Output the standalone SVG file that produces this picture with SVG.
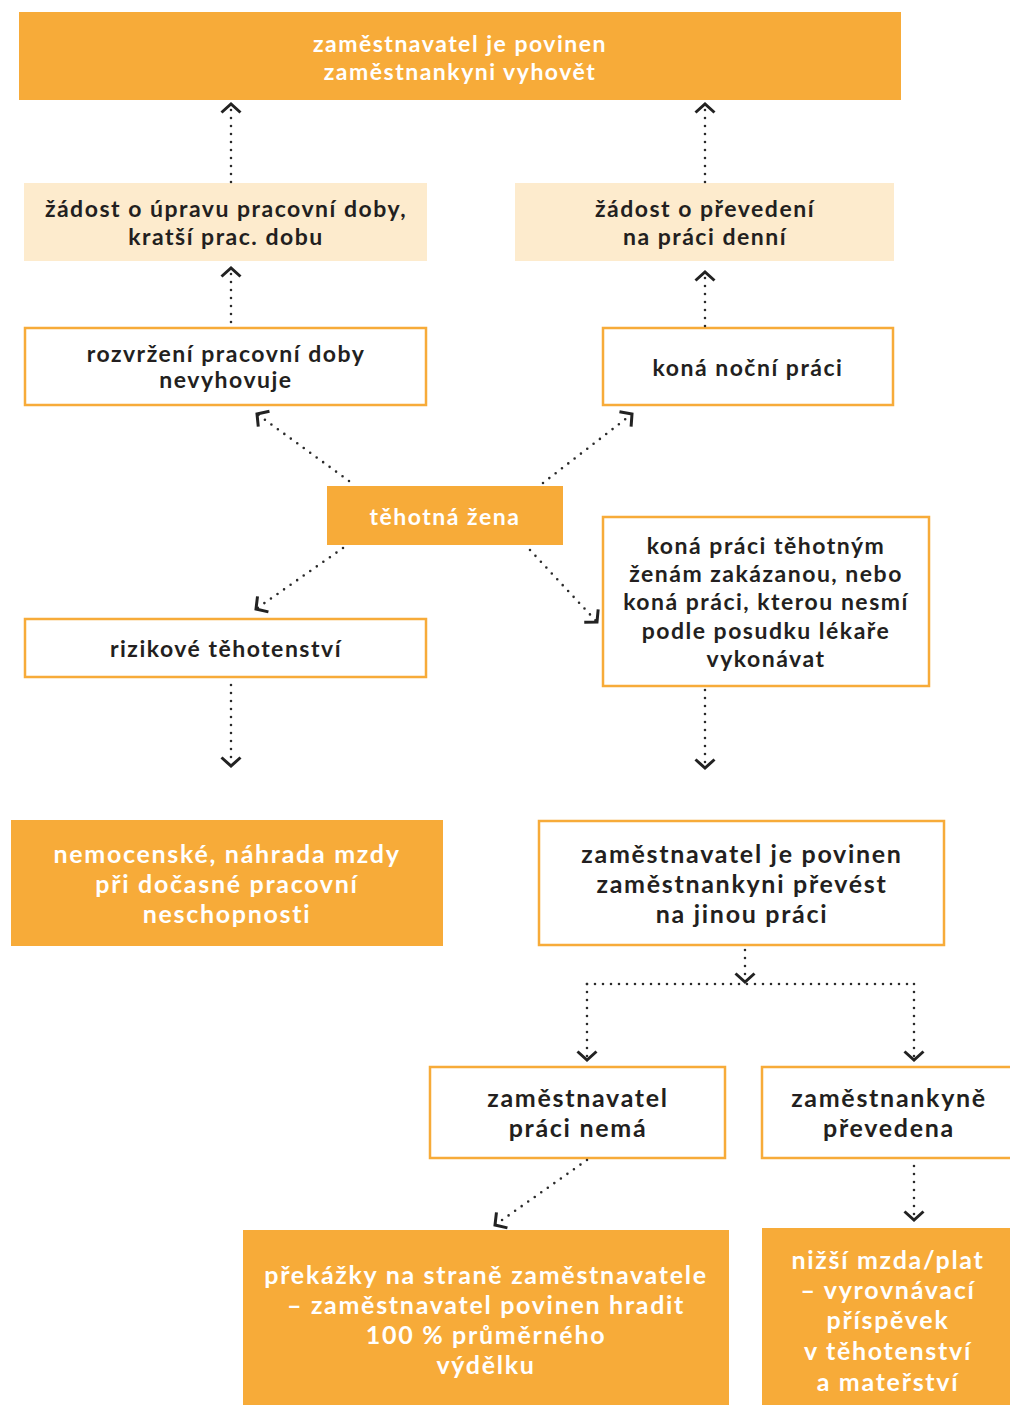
<svg xmlns="http://www.w3.org/2000/svg" width="1010" height="1405" viewBox="0 0 1010 1405">
<style>
.t{font-family:Lato,"Noto Sans","DejaVu Sans",sans-serif;font-weight:bold;font-size:23px;letter-spacing:1.5px;text-anchor:middle;fill:#231f20}
.L{font-size:25px;letter-spacing:1.7px}
.w{fill:#ffffff}
.or{fill:#f7ab39}
.lt{fill:#fdebcd}
.bx{fill:#ffffff;stroke:#f7ab39;stroke-width:2.5}
.c{fill:none;stroke:#2a2a2a;stroke-width:2.6;stroke-linecap:round;stroke-dasharray:0 8}
</style>
<defs>
<marker id="ah" viewBox="-12 -12 24 24" markerWidth="24" markerHeight="24" refX="0" refY="0" orient="auto" markerUnits="userSpaceOnUse">
<path d="M-8.5,-9.5 L0,0 L-8.5,9.5" fill="none" stroke="#222" stroke-width="3"/>
</marker>
</defs>
<rect width="1010" height="1405" fill="#ffffff"/>
<g id="n-top"><rect class="or" x="19" y="12" width="882" height="88"/>
<text class="t w" x="460" y="52">zaměstnavatel je povinen</text><text class="t w" x="460" y="80">zaměstnankyni vyhovět</text></g>
<g id="n-uprava"><rect class="lt" x="24" y="183" width="403" height="78"/>
<text class="t" x="226" y="217">žádost o úpravu pracovní doby,</text><text class="t" x="226" y="245">kratší prac. dobu</text></g>
<g id="n-prevedeni"><rect class="lt" x="515" y="183" width="379" height="78"/>
<text class="t" x="705" y="217">žádost o převedení</text><text class="t" x="705" y="245">na práci denní</text></g>
<g id="n-rozvrzeni"><rect class="bx" x="25" y="328" width="401" height="77"/>
<text class="t" x="226" y="362">rozvržení pracovní doby</text><text class="t" x="226" y="388">nevyhovuje</text></g>
<g id="n-nocni"><rect class="bx" x="603" y="328" width="290" height="77"/>
<text class="t" x="748" y="376">koná noční práci</text></g>
<g id="n-tehotna"><rect class="or" x="327" y="486" width="236" height="59"/>
<text class="t w" x="445" y="525">těhotná žena</text></g>
<g id="n-zakazana"><rect class="bx" x="603" y="517" width="326" height="169"/>
<text class="t" x="766" y="554">koná práci těhotným</text><text class="t" x="766" y="582">ženám zakázanou, nebo</text><text class="t" x="766" y="610">koná práci, kterou nesmí</text><text class="t" x="766" y="639">podle posudku lékaře</text><text class="t" x="766" y="667">vykonávat</text></g>
<g id="n-rizikove"><rect class="bx" x="25" y="619" width="401" height="58"/>
<text class="t" x="226" y="657">rizikové těhotenství</text></g>
<g id="n-nemocenske"><rect class="or" x="11" y="820" width="432" height="126"/>
<text class="t L w" x="227" y="863">nemocenské, náhrada mzdy</text><text class="t L w" x="227" y="893">při dočasné pracovní</text><text class="t L w" x="227" y="923">neschopnosti</text></g>
<g id="n-prevest"><rect class="bx" x="539" y="821" width="405" height="124"/>
<text class="t L" x="742" y="863">zaměstnavatel je povinen</text><text class="t L" x="742" y="893">zaměstnankyni převést</text><text class="t L" x="742" y="923">na jinou práci</text></g>
<g id="n-nema"><rect class="bx" x="430" y="1067" width="295" height="91"/>
<text class="t L" x="578" y="1107">zaměstnavatel</text><text class="t L" x="578" y="1137">práci nemá</text></g>
<g id="n-prevedena"><rect class="bx" x="762" y="1067" width="260" height="91"/>
<text class="t L" x="889" y="1107">zaměstnankyně</text><text class="t L" x="889" y="1137">převedena</text></g>
<g id="n-prekazky"><rect class="or" x="243" y="1230" width="486" height="180"/>
<text class="t L w" x="486" y="1284">překážky na straně zaměstnavatele</text><text class="t L w" x="486" y="1314">– zaměstnavatel povinen hradit</text><text class="t L w" x="486" y="1344">100 % průměrného</text><text class="t L w" x="486" y="1374">výdělku</text></g>
<g id="n-nizsi"><rect class="or" x="762" y="1228" width="260" height="182"/>
<text class="t L w" x="888" y="1269">nižší mzda/plat</text><text class="t L w" x="888" y="1299">– vyrovnávací</text><text class="t L w" x="888" y="1329">příspěvek</text><text class="t L w" x="888" y="1360">v těhotenství</text><text class="t L w" x="888" y="1391">a mateřství</text></g>
<g id="connectors">
<path class="c" d="M231,182 L231,104" marker-end="url(#ah)"/>
<path class="c" d="M705,182 L705,104" marker-end="url(#ah)"/>
<path class="c" d="M231,322 L231,268" marker-end="url(#ah)"/>
<path class="c" d="M705,326 L705,272" marker-end="url(#ah)"/>
<path class="c" d="M349,481 L257,414" marker-end="url(#ah)"/>
<path class="c" d="M543,483 L632,414" marker-end="url(#ah)"/>
<path class="c" d="M343,548 L256,609" marker-end="url(#ah)"/>
<path class="c" d="M530,550 L597,622" marker-end="url(#ah)"/>
<path class="c" d="M231,685 L231,766" marker-end="url(#ah)"/>
<path class="c" d="M705,690 L705,768" marker-end="url(#ah)"/>
<path class="c" d="M745,950 L745,982" marker-end="url(#ah)"/>
<path class="c" d="M587,984 L914,984"/>
<path class="c" d="M587,984 L587,1060" marker-end="url(#ah)"/>
<path class="c" d="M914,984 L914,1060" marker-end="url(#ah)"/>
<path class="c" d="M587,1160 L495,1225" marker-end="url(#ah)"/>
<path class="c" d="M914,1166 L914,1220" marker-end="url(#ah)"/>
</g>
</svg>
